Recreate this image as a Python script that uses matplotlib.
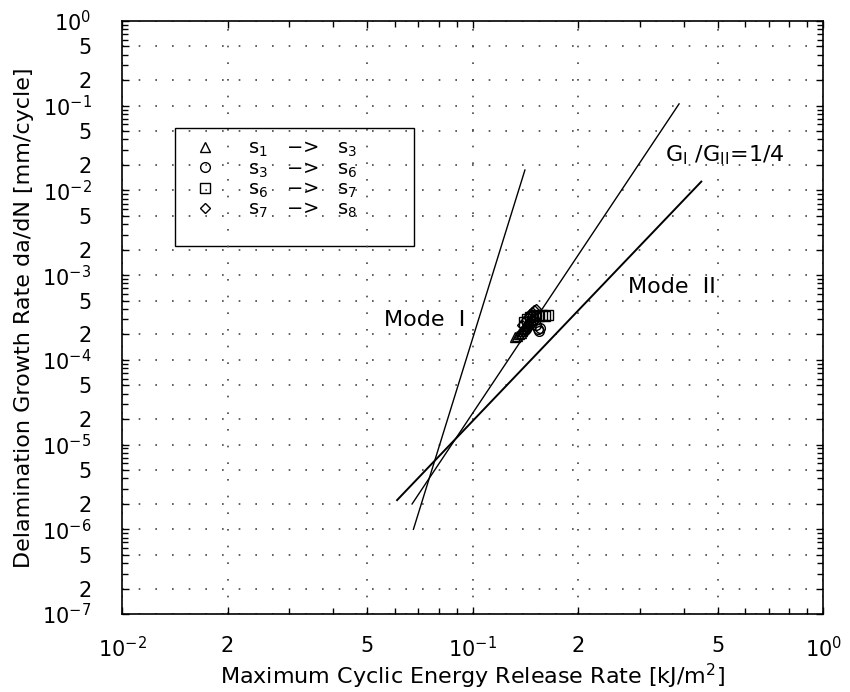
import matplotlib
matplotlib.use('Agg')
import matplotlib.pyplot as plt
from matplotlib.ticker import FixedLocator, FuncFormatter, LogLocator, NullFormatter
from matplotlib.lines import Line2D
from matplotlib.patches import Rectangle

plt.rcParams['font.family'] = ['DejaVu Sans']
plt.rcParams['mathtext.fontset'] = 'dejavusans'

# fitted lines (end points)
mode1_x = [0.0678, 0.141]
mode1_y = [1.0e-6, 1.74e-2]
ratio_x = [0.0672, 0.388]
ratio_y = [1.99e-6, 0.105]
mode2_x = [0.0609, 0.449]
mode2_y = [2.21e-6, 1.27e-2]

# measured points
s13_x = [0.132, 0.134, 0.136, 0.137, 0.138, 0.139, 0.140, 0.141, 0.142, 0.143, 0.144, 0.145]
s13_y = [1.85e-4, 1.9e-4, 2.0e-4, 2.1e-4, 2.2e-4, 2.3e-4, 2.4e-4, 2.5e-4, 2.6e-4, 2.7e-4, 2.8e-4, 2.9e-4]
s36_x = [0.140, 0.142, 0.144, 0.146, 0.148, 0.150, 0.152, 0.154, 0.155, 0.156]
s36_y = [2.2e-4, 2.3e-4, 2.5e-4, 2.7e-4, 2.9e-4, 3.0e-4, 2.6e-4, 2.3e-4, 2.2e-4, 2.4e-4]
s67_x = [0.140, 0.143, 0.146, 0.149, 0.152, 0.155, 0.158, 0.161, 0.164]
s67_y = [2.8e-4, 3.0e-4, 3.2e-4, 3.3e-4, 3.4e-4, 3.3e-4, 3.4e-4, 3.3e-4, 3.4e-4]
s78_x = [0.138, 0.141, 0.144, 0.146, 0.148, 0.150, 0.152]
s78_y = [2.6e-4, 2.9e-4, 3.2e-4, 3.5e-4, 3.7e-4, 3.9e-4, 4.0e-4]

x_ticks = [0.01, 0.02, 0.05, 0.1, 0.2, 0.5, 1.0]
y_ticks = [1e-7, 2e-7, 5e-7, 1e-6, 2e-6, 5e-6, 1e-5, 2e-5, 5e-5, 1e-4, 2e-4, 5e-4,
           1e-3, 2e-3, 5e-3, 1e-2, 2e-2, 5e-2, 1e-1, 2e-1, 5e-1, 1.0]

FS = 16


def fmt(v, pos):
    import math
    e = math.floor(math.log10(v) + 1e-9)
    m = round(v / 10 ** e)
    if m == 1:
        return r'$10^{%d}$' % e
    return str(m)


fig = plt.figure(figsize=(8.5, 6.92), dpi=100)
ax = fig.add_axes([0.1435, 0.1127, 0.825, 0.857])
ax.set_xscale('log')
ax.set_yscale('log')
ax.set_xlim(1e-2, 1.0)
ax.set_ylim(1e-7, 1.0)

ax.plot(mode1_x, mode1_y, color='black', lw=1.0)
ax.plot(ratio_x, ratio_y, color='black', lw=1.0)
ax.plot(mode2_x, mode2_y, color='black', lw=1.4)

mk = dict(linestyle='none', markerfacecolor='none', markeredgecolor='black', markeredgewidth=1.0)
ax.plot(s13_x, s13_y, marker='^', markersize=7, **mk)
ax.plot(s36_x, s36_y, marker='o', markersize=7, **mk)
ax.plot(s67_x, s67_y, marker='s', markersize=7, **mk)
ax.plot(s78_x, s78_y, marker='D', markersize=5, **mk)

ax.text(0.0728, 2.95e-4, 'Mode  I', ha='center', va='center', fontsize=FS)
ax.text(0.371, 7.24e-4, 'Mode  II', ha='center', va='center', fontsize=FS)
ax.text(0.354, 0.0262, r'G$_{\rm I}$ /G$_{\rm II}$=1/4', ha='left', va='center', fontsize=FS)

# legend
handles = [Line2D([], [], marker='^', markersize=7, **mk),
           Line2D([], [], marker='o', markersize=7, **mk),
           Line2D([], [], marker='s', markersize=7, **mk),
           Line2D([], [], marker='D', markersize=5, **mk)]
labels = [r's$_1$   $-$>   s$_3$', r's$_3$   $-$>   s$_6$', r's$_6$   $-$>   s$_7$', r's$_7$   $-$>   s$_8$']
ax.legend(handles, labels, loc='upper left', bbox_to_anchor=(0.085, 0.824), frameon=False,
          fontsize=14, handlelength=1.0, handletextpad=1.7, labelspacing=0.0, borderpad=0.2)
ax.add_patch(Rectangle((0.0756, 0.6206), 0.341, 0.199, transform=ax.transAxes,
                       fill=False, edgecolor='black', lw=1.0))

# ticks and grid
ax.xaxis.set_major_locator(FixedLocator(x_ticks))
ax.yaxis.set_major_locator(FixedLocator(y_ticks))
ax.xaxis.set_major_formatter(FuncFormatter(fmt))
ax.yaxis.set_major_formatter(FuncFormatter(fmt))
ax.xaxis.set_minor_locator(LogLocator(base=10, subs=range(1, 10)))
ax.yaxis.set_minor_locator(LogLocator(base=10, subs=range(1, 10)))
ax.xaxis.set_minor_formatter(NullFormatter())
ax.yaxis.set_minor_formatter(NullFormatter())
ax.tick_params(which='both', direction='in', top=True, right=True, width=1.0)
ax.tick_params(which='major', length=5, labelsize=15)
ax.tick_params(which='minor', length=4)
ax.tick_params(axis='x', which='major', pad=16)
ax.tick_params(axis='y', which='major', pad=22)
ax.grid(True, which='major', color='#444444', linestyle=(0, (1, 9)), lw=1.2)

ax.set_xlabel(r'Maximum Cyclic Energy Release Rate [kJ/m$^2$]', fontsize=FS, labelpad=0)
ax.set_ylabel('Delamination Growth Rate da/dN [mm/cycle]', fontsize=FS, labelpad=6)
for s in ax.spines.values():
    s.set_linewidth(1.2)

fig.savefig('out.png', dpi=100)
